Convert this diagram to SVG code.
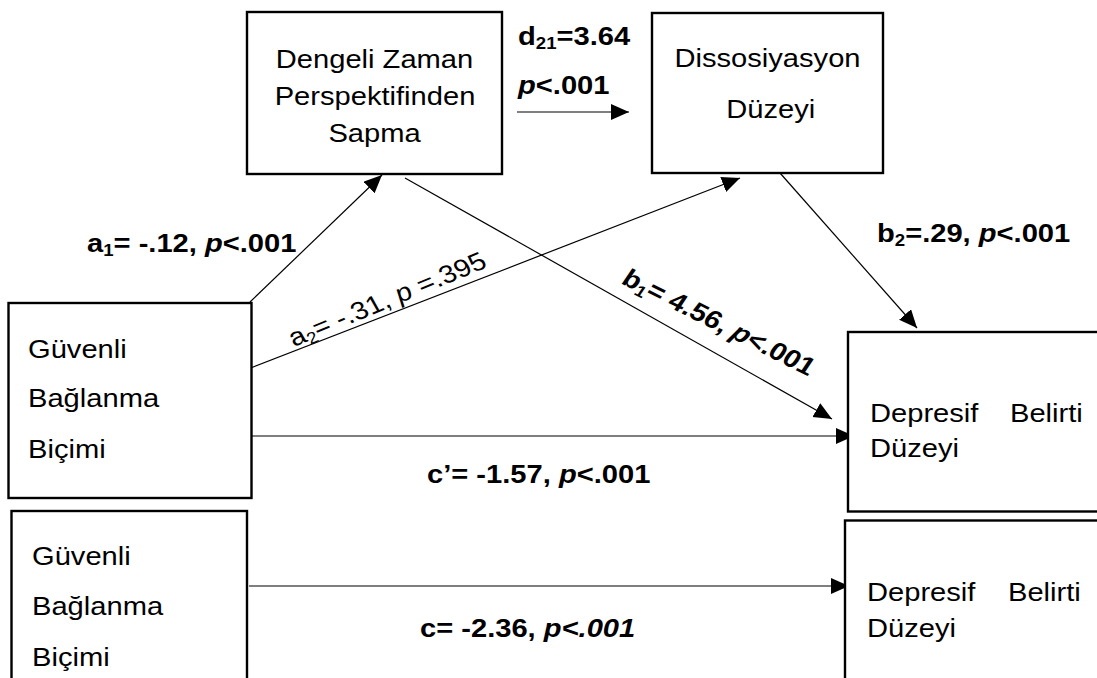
<svg xmlns="http://www.w3.org/2000/svg" width="1097" height="678" viewBox="0 0 1097 678">
<style>
.box{fill:#fff;stroke:#000;stroke-width:2.4}
.ln{fill:none;stroke:#000;stroke-width:1.2}
.arr{marker-end:url(#ah)}
.t{font-family:"Liberation Sans",Arial,sans-serif;font-size:25px;fill:#000}
.b{font-weight:bold}
.i{font-style:italic}
.s{font-size:16px}
</style>
<defs>
<marker id="ah" markerUnits="userSpaceOnUse" markerWidth="19" markerHeight="17" refX="18" refY="8" orient="auto">
<path d="M0,0 L18,8 L0,16 z" fill="#000"/>
</marker>
</defs>
<rect width="1097" height="678" fill="#fff"/>

<g id="connectors">
<line class="ln arr" x1="517" y1="112" x2="629" y2="112"/>
<line class="ln arr" x1="250" y1="302" x2="382" y2="175"/>
<line class="ln arr" x1="248" y1="369" x2="740" y2="178"/>
<line class="ln arr" x1="405" y1="178" x2="832" y2="419"/>
<line class="ln arr" x1="780" y1="173" x2="917" y2="328"/>
<line class="ln arr" x1="248" y1="436" x2="854" y2="436"/>
<line class="ln arr" x1="249" y1="586" x2="849" y2="586"/>
</g>

<g id="labels">
<text class="t b" transform="translate(518,45) scale(1.165,1)">d<tspan class="s" dy="4">21</tspan><tspan dy="-4">=3.64</tspan></text>
<text class="t b" transform="translate(518,94) scale(1.165,1)"><tspan class="i">p</tspan>&lt;.001</text>
<text class="t b" transform="translate(87,252) scale(1.165,1)">a<tspan class="s" dy="4">1</tspan><tspan dy="-4">= -.12, </tspan><tspan class="i">p</tspan>&lt;.001</text>
<text class="t" transform="translate(294,347) scale(1.165,1) rotate(-25.7)">a<tspan class="s" dy="4">2</tspan><tspan dy="-4">= -.31, </tspan><tspan class="i">p</tspan> =.395</text>
<text class="t b" transform="translate(620,283) scale(1.165,1) rotate(30)">b<tspan class="s" dy="4">1</tspan><tspan dy="-4">= 4.56, </tspan><tspan class="i">p</tspan>&lt;.001</text>
<text class="t b" transform="translate(877,242) scale(1.165,1)">b<tspan class="s" dy="4">2</tspan><tspan dy="-4">=.29, </tspan><tspan class="i">p</tspan>&lt;.001</text>
<text class="t b" transform="translate(427,483) scale(1.165,1)">c’= -1.57, <tspan class="i">p</tspan>&lt;.001</text>
<text class="t b" transform="translate(420,637) scale(1.165,1)">c= -2.36, <tspan class="i">p&lt;.001</tspan></text>
</g>

<g id="node-dengeli">
<rect class="box" x="247" y="12" width="255" height="162"/>
<text class="t" text-anchor="middle" transform="translate(374.5,68) scale(1.165,1)">Dengeli Zaman</text>
<text class="t" text-anchor="middle" transform="translate(375,105) scale(1.165,1)">Perspektifinden</text>
<text class="t" text-anchor="middle" transform="translate(374.5,142) scale(1.165,1)">Sapma</text>
</g>

<g id="node-dissosiyasyon">
<rect class="box" x="652" y="13" width="231" height="160"/>
<text class="t" text-anchor="middle" transform="translate(767.5,67) scale(1.165,1)">Dissosiyasyon</text>
<text class="t" text-anchor="middle" transform="translate(770.8,118) scale(1.165,1)">Düzeyi</text>
</g>

<g id="node-guvenli-1">
<rect class="box" x="8.5" y="303" width="243" height="195"/>
<text class="t" transform="translate(28,358) scale(1.165,1)">Güvenli</text>
<text class="t" transform="translate(28,407) scale(1.165,1)">Bağlanma</text>
<text class="t" transform="translate(28,458) scale(1.165,1)">Biçimi</text>
</g>

<g id="node-depresif-1">
<rect class="box" x="848" y="332" width="260" height="179.5"/>
<text class="t" transform="translate(870,422) scale(1.165,1)">Depresif</text>
<text class="t" transform="translate(1010,422) scale(1.165,1)">Belirti</text>
<text class="t" transform="translate(870,457) scale(1.165,1)">Düzeyi</text>
</g>

<g id="node-guvenli-2">
<rect class="box" x="11.5" y="511" width="235.5" height="200"/>
<text class="t" transform="translate(32,565) scale(1.165,1)">Güvenli</text>
<text class="t" transform="translate(32,615) scale(1.165,1)">Bağlanma</text>
<text class="t" transform="translate(32,666) scale(1.165,1)">Biçimi</text>
</g>

<g id="node-depresif-2">
<rect class="box" x="845" y="520.5" width="260" height="200"/>
<text class="t" transform="translate(867,601) scale(1.165,1)">Depresif</text>
<text class="t" transform="translate(1008,601) scale(1.165,1)">Belirti</text>
<text class="t" transform="translate(867,637) scale(1.165,1)">Düzeyi</text>
</g>
</svg>
